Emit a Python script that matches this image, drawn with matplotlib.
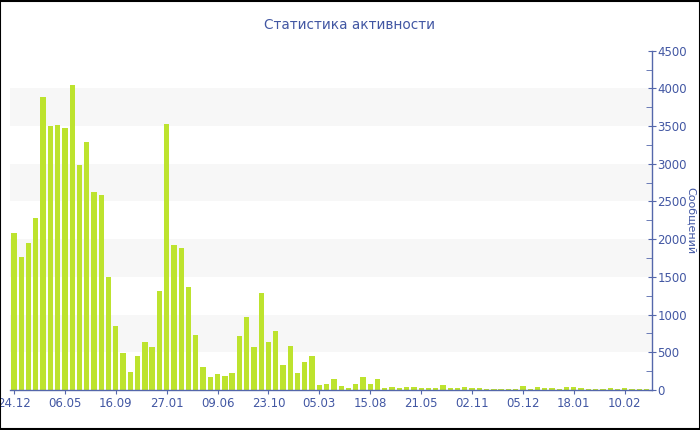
import matplotlib
matplotlib.use('Agg')
from matplotlib import pyplot as plt
from matplotlib.patches import Rectangle
from matplotlib.ticker import MultipleLocator

# количество сообщений по периодам
counts = [2080, 1770, 1950, 2280, 3890, 3500, 3520, 3480, 4050, 2990,
          3290, 2630, 2590, 1505, 855, 495, 245, 445, 640, 575,
          1310, 3530, 1925, 1880, 1360, 725, 300, 170, 210, 185,
          225, 715, 970, 565, 1280, 630, 780, 325, 585, 220,
          375, 450, 70, 80, 145, 50, 27, 80, 175, 80,
          150, 30, 40, 27, 45, 35, 27, 27, 27, 62,
          22, 27, 35, 22, 27, 18, 15, 15, 15, 15,
          53, 15, 40, 22, 22, 18, 40, 35, 20, 18,
          18, 15, 27, 18, 27, 18, 18, 15]
tick_labels = ['24.12', '06.05', '16.09', '27.01', '09.06', '23.10', '05.03',
               '15.08', '21.05', '02.11', '05.12', '18.01', '10.02']
label_step = 7

text_color = '#4257a3'
axis_color = '#5467ab'

fig = plt.figure(figsize=(7, 4.3), dpi=100)
ax = fig.add_axes([10 / 700, 40 / 430, 642 / 700, 339.3 / 430])

# полосы фона
for lo in range(500, 4500, 1000):
    ax.axhspan(lo, lo + 500, color='#f7f7f7', zorder=0, lw=0)

x = list(range(len(counts)))
ax.bar(x, counts, width=0.73, color='#bde32e', zorder=2)

ax.set_xlim(-0.55, 87.75)
ax.set_ylim(0, 4500)

ax.set_xticks(x[::label_step])
ax.set_xticklabels(tick_labels)

ax.yaxis.tick_right()
ax.yaxis.set_label_position('right')
ax.yaxis.set_major_locator(MultipleLocator(500))
ax.yaxis.set_minor_locator(MultipleLocator(250))

for side in ['top', 'left']:
    ax.spines[side].set_visible(False)
for side in ['bottom', 'right']:
    ax.spines[side].set_color(axis_color)
    ax.spines[side].set_linewidth(1)

ax.tick_params(axis='x', colors=axis_color, labelcolor=text_color,
               labelsize=8.5, length=3, pad=2)
ax.tick_params(axis='y', which='major', colors=axis_color, labelcolor=text_color,
               labelsize=8.5, direction='inout', length=6, pad=1)
ax.tick_params(axis='y', which='minor', colors=axis_color, direction='in', length=4)

ax.set_ylabel('Сообщений', color=text_color, fontsize=8, rotation=270, va='center')
ax.yaxis.set_label_coords(1.061, 0.5)

fig.text(0.5, 1 - 25 / 430, 'Статистика активности', ha='center', va='center',
         color=text_color, fontsize=9.8)

# рамка вокруг картинки
fig.patches.append(Rectangle((0.0007, 0.0012), 0.9986, 0.9976, transform=fig.transFigure,
                             fill=False, edgecolor='black', linewidth=1.5))

plt.savefig('out.png', dpi=100)
